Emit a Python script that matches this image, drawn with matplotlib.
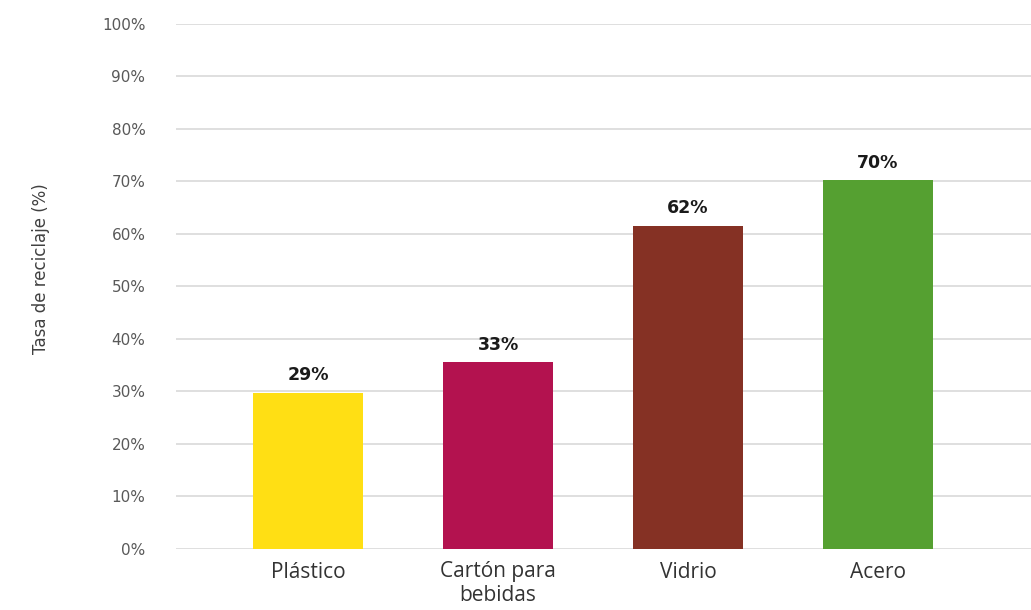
import matplotlib
matplotlib.use('Agg')
import matplotlib.pyplot as plt

# Datos del gráfico
categorias = ['Plástico', 'Cartón para\nbebidas', 'Vidrio', 'Acero']
alturas = [29.8, 35.6, 61.6, 70.2]
etiquetas = ['29%', '33%', '62%', '70%']
colores = ['#FFDF14', '#B3124F', '#853124', '#55A031']
ticks_y = [0, 10, 20, 30, 40, 50, 60, 70, 80, 90, 100]

fig = plt.figure(figsize=(10.31, 6.10), dpi=100)
ax = fig.add_axes([0.1707, 0.1, 0.8293, 0.8607])

x = list(range(len(categorias)))
ax.bar(x, alturas, width=0.575, color=colores, zorder=3)

# Etiquetas de valor sobre las barras
for xi, h, t in zip(x, alturas, etiquetas):
    ax.annotate(t, (xi, h), xytext=(0, 6), textcoords='offset points',
                ha='center', va='bottom', fontsize=12.5, fontweight='bold',
                color='#1a1a1a', family='DejaVu Sans')

ax.set_ylim(0, 100)
ax.set_xlim(-0.695, 3.805)
ax.set_yticks(ticks_y)
ax.set_yticklabels([f'{t}%' for t in ticks_y], fontsize=11, color='#595959',
                   family='DejaVu Sans')
ax.set_xticks(x)
ax.set_xticklabels(categorias, fontsize=15, color='#333333', family='Open Sans',
                   linespacing=1.15)
ax.tick_params(axis='both', length=0)
ax.tick_params(axis='y', pad=22)
ax.tick_params(axis='x', pad=9)

ax.grid(axis='y', color='#D9D9D9', linewidth=1.2, zorder=0)
for s in ax.spines.values():
    s.set_visible(False)

fig.text(0.04, 0.56, 'Tasa de reciclaje (%)', rotation=90, ha='center', va='center',
         fontsize=12, color='#404040', family='Liberation Sans Narrow')

fig.savefig('out.png', dpi=100)
